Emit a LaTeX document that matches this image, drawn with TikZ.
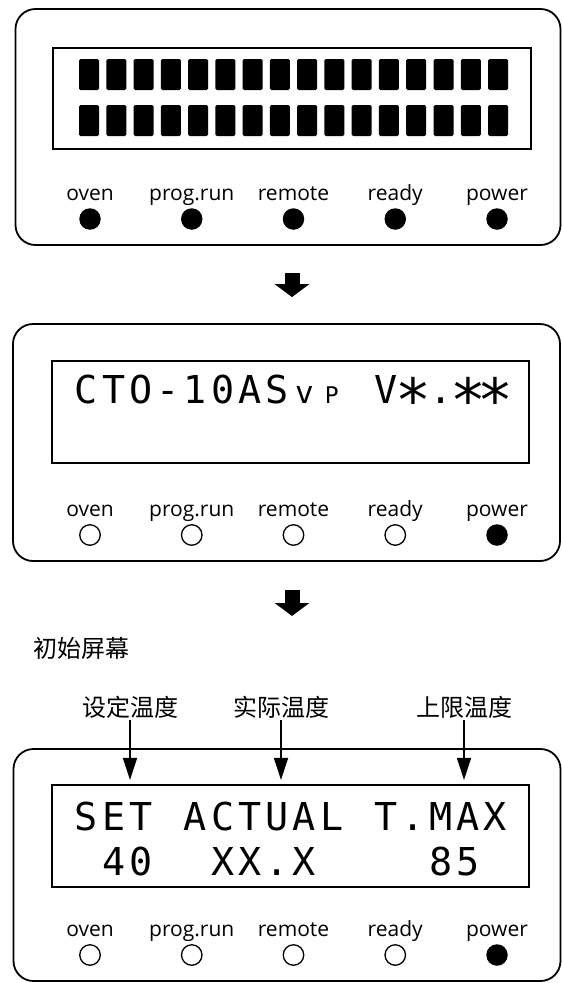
\documentclass[tikz,border=0pt]{standalone}
\usepackage{fontspec}
\setmainfont{Open Sans}
\newfontfamily\lcdfont{DejaVu Sans Mono}
\newfontfamily\cjk{Noto Sans CJK SC}
\usetikzlibrary{arrows.meta}
\makeatletter
\newlength\lcdcw
\setlength\lcdcw{27.27pt}
\newcommand\lcdrow[1]{\@tfor\lcd@c:=#1\do{\makebox[\lcdcw]{\lcd@c}}}
\makeatother
\newcommand\lcdstar{\raisebox{-18pt}{\scalebox{1.55}{*}}}
\newcommand\lcdv{{\fontsize{31}{31}\selectfont v}}
\newcommand\lcdP{{\fontsize{23}{23}\selectfont P}}
\begin{document}
\begin{tikzpicture}[x=1pt,y=-1pt,
  panel/.style={draw, line width=1.8pt, rounded corners=20pt, inner sep=0pt},
  lcd/.style={draw, line width=2.2pt, inner sep=0pt},
  cell/.style={fill=black, rounded corners=1.5pt},
  ledlbl/.style={font=\fontsize{21}{21}\selectfont, inner sep=0pt, anchor=base},
  ledon/.style={circle, fill=black, minimum size=21.5pt, inner sep=0pt},
  ledoff/.style={circle, draw, line width=1.3pt, minimum size=20.5pt, inner sep=0pt},
  lcdtxt/.style={anchor=base west, inner sep=0pt, font=\lcdfont\fontsize{38.4}{40}\selectfont},
  bigarrow/.style={line width=15pt, -{Triangle[width=34pt,length=13pt]}},
  thinarrow/.style={line width=1.8pt, -{Triangle[width=14pt,length=22pt]}},
  cjklbl/.style={font=\cjk\fontsize{24}{24}\selectfont, inner sep=2pt}]
\useasboundingbox (0,0) rectangle (562,983);

% ---- panel 1
\node[panel, minimum width=545pt, minimum height=236pt] (P1) at (288,127) {};
\node[lcd, minimum width=478pt, minimum height=101pt] (L1) at (292,98.5) {};
\foreach \k in {0,...,15} {
  \fill[cell] ({79+27.27*\k},59) rectangle ++(20,31);
  \fill[cell] ({79+27.27*\k},105) rectangle ++(20,31);
}
\foreach \t [count=\i] in {oven,prog.run,remote,ready,power} {
  \pgfmathsetmacro\xx{90+101.75*(\i-1)}
  \node[ledlbl] (a\i) at (\xx,200) {\t};
  \node[ledon] (ad\i) at (\xx,219) {};
}

% ---- panel 2
\node[panel, minimum width=547pt, minimum height=237pt] (P2) at (286.5,442.5) {};
\node[lcd, minimum width=477pt, minimum height=102pt] (L2) at (290.5,412) {};
\node[lcdtxt] (t2) at (72.5,403) {\lcdrow{CTO-10AS\lcdv\lcdP~V\lcdstar.\lcdstar\lcdstar}};
\foreach \t [count=\i] in {oven,prog.run,remote,ready,power} {
  \pgfmathsetmacro\xx{90+101.75*(\i-1)}
  \node[ledlbl] (b\i) at (\xx,516) {\t};
}
\foreach \i in {1,...,4} {
  \pgfmathsetmacro\xx{90+101.75*(\i-1)}
  \node[ledoff] (bd\i) at (\xx,535) {};
}
\node[ledon] (bd5) at (497,535) {};

% ---- panel 3
\node[panel, minimum width=547pt, minimum height=232pt] (P3) at (287,865) {};
\node[lcd, minimum width=477pt, minimum height=102pt] (L3) at (290.5,836) {};
\node[lcdtxt] (t3a) at (72.5,830) {\lcdrow{SET~ACTUAL~T.MAX}};
\node[lcdtxt] (t3b) at (72.5,875) {\lcdrow{~40~~XX.X~~~~85~}};
\foreach \t [count=\i] in {oven,prog.run,remote,ready,power} {
  \pgfmathsetmacro\xx{90+101.75*(\i-1)}
  \node[ledlbl] (c\i) at (\xx,936) {\t};
}
\foreach \i in {1,...,4} {
  \pgfmathsetmacro\xx{90+101.75*(\i-1)}
  \node[ledoff] (cd\i) at (\xx,955) {};
}
\node[ledon] (cd5) at (497,955) {};

% ---- block arrows between panels
\draw[bigarrow, shorten <=27pt, shorten >=26pt] ([xshift=4pt]P1.south) -- ([xshift=4pt]P1.south |- P2.north);
\node[cjklbl] (title) at (82,648) {初始屏幕};
\coordinate (a2top) at (292,590);
\coordinate (a2tip) at (292,616);
\draw[bigarrow] (a2top) -- (a2tip);

% ---- labels with thin arrows
\node[cjklbl] (s1) at (130,707) {设定温度};
\node[cjklbl] (s2) at (281,707) {实际温度};
\node[cjklbl] (s3) at (464,707) {上限温度};
\foreach \s in {s1,s2,s3} {
  \draw[thinarrow, shorten >=4pt] (\s.south) -- (\s.south |- L3.north);
}
\end{tikzpicture}
\end{document}
